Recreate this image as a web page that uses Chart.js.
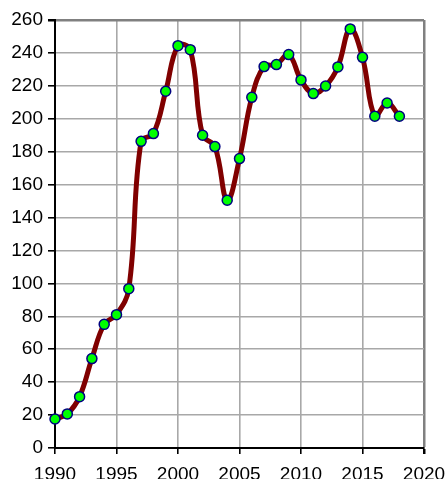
<!DOCTYPE html>
<html><head><meta charset="utf-8">
<script src="https://cdn.jsdelivr.net/npm/chart.js@4.4.0/dist/chart.umd.min.js"></script>
<style>html,body{margin:0;padding:0;background:#fff;}#wrap{width:446px;height:479px;}</style>
</head><body><div id="wrap"><canvas id="c" width="446" height="479"></canvas></div>
<script>
const years = [1990,1991,1992,1993,1994,1995,1996,1997,1998,1999,2000,2001,2002,2003,2004,2005,2006,2007,2008,2009,2010,2011,2012,2013,2014,2015,2016,2017,2018];
const values = [17.6,20.7,31.2,54.3,75.1,81.0,96.8,186.3,191.0,216.7,244.4,242.0,190.0,183.1,150.5,175.8,213.0,231.7,232.9,239.0,223.6,215.3,219.9,231.5,254.6,237.3,201.5,209.6,201.5];
const xTicks = [1990,1995,2000,2005,2010,2015,2020];
const yTicks = [0,20,40,60,80,100,120,140,160,180,200,220,240,260];

const pts = years.map((y,i)=>({x:y,y:values[i]}));
const gridCol = (last)=>(ctx)=> (ctx.tick && ctx.tick.value===last) ? '#808080' : '#a8a8a8';
const gridW = (last)=>(ctx)=> (ctx.tick && ctx.tick.value===last) ? 2.5 : 1.6;
new Chart(document.getElementById('c'), {
  type:'line',
  data:{datasets:[{
    data:pts,
    borderColor:'#800000',
    borderWidth:5,
    tension:0.4,
    pointRadius:5,
    pointBackgroundColor:'#00ff00',
    pointBorderColor:'#000080',
    pointBorderWidth:1.5,
    clip:false,
    fill:false
  }]},
  options:{
    responsive:false,
    animation:false,
    devicePixelRatio:1,
    layout:{padding:{top:20,right:22,left:0,bottom:0}},
    plugins:{legend:{display:false},tooltip:{enabled:false}},
    scales:{
      x:{type:'linear',min:xTicks[0],max:xTicks[xTicks.length-1],
        afterBuildTicks:(s)=>{s.ticks=xTicks.map(v=>({value:v}));},
        afterFit:(s)=>{s.height=31;s.paddingLeft=0;s.paddingRight=0;},
        ticks:{color:'#000',font:{family:'Liberation Sans, Arial',size:19},padding:9,maxRotation:0,autoSkip:false,callback:(v)=>String(v)},
        grid:{color:gridCol(2020),lineWidth:gridW(2020),tickColor:'#000',tickLength:6},
        border:{color:'#000',width:2}
      },
      y:{min:yTicks[0],max:yTicks[yTicks.length-1],
        afterBuildTicks:(s)=>{s.ticks=yTicks.map(v=>({value:v}));},
        afterFit:(s)=>{s.width=55;s.paddingTop=0;s.paddingBottom=0;},
        ticks:{color:'#000',font:{family:'Liberation Sans, Arial',size:19},padding:5,autoSkip:false,callback:(v)=>String(v)},
        grid:{color:gridCol(260),lineWidth:gridW(260),tickColor:'#000',tickLength:7},
        border:{color:'#000',width:2}
      }
    }
  }
});
</script></body></html>
